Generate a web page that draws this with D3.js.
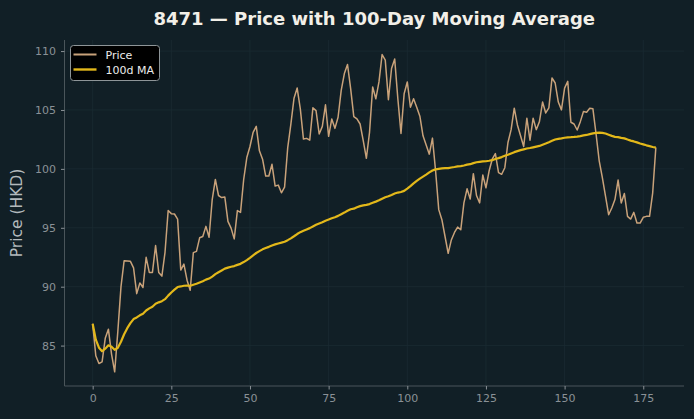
<!DOCTYPE html>
<html><head><meta charset="utf-8">
<script src="https://cdn.jsdelivr.net/npm/d3@7"></script>
<style>
html,body{margin:0;padding:0;background:#111f26;}
svg{display:block;font-family:"DejaVu Sans",sans-serif;}
</style></head>
<body><svg id="c" width="694" height="419"></svg>
<script>
const title = "8471 \u2014 Price with 100-Day Moving Average";
const yLabel = "Price (HKD)";
const legendLabels = ["Price", "100d MA"];
const xTicks = [0,25,50,75,100,125,150,175];
const yTicks = [85,90,95,100,105,110];
const price = [
86.85,84.14,83.48,83.62,85.62,86.39,84.28,82.77,86.2,89.98,
92.2,92.18,92.15,91.6,89.41,90.32,89.93,92.49,91.21,91.21,
93.49,91.21,90.9,92.92,96.46,96.2,96.17,95.74,91.41,91.92,
90.55,89.7,92.89,93.0,94.15,94.26,95.12,94.2,97.4,99.1,
97.74,97.57,97.62,95.54,94.97,94.06,96.46,96.31,99.1,100.96,
101.9,103.1,103.61,101.53,100.82,99.39,99.39,100.39,98.54,98.62,
97.97,98.45,101.8,103.8,106.0,106.86,105.1,102.53,102.59,102.44,
105.18,104.95,102.96,103.61,105.44,102.76,104.24,103.44,104.38,106.66,
108.09,108.86,106.81,104.44,104.24,103.81,102.39,100.9,103.1,106.95,
105.95,107.38,109.71,109.23,105.87,108.52,109.32,105.95,103.01,106.38,
107.38,105.24,105.95,105.24,104.47,102.81,102.02,101.25,102.61,99.82,
96.54,95.69,94.26,92.83,93.97,94.6,95.06,94.83,97.11,98.31,
97.45,99.59,97.74,97.11,99.48,98.39,99.82,100.82,101.3,99.68,
99.54,100.1,102.24,103.33,105.15,103.73,102.81,101.9,104.3,102.44,
104.3,103.33,104.01,105.67,104.75,105.18,107.72,107.29,105.67,105.01,
106.86,107.43,103.96,103.81,103.3,104.01,104.87,104.81,105.15,105.1,
102.96,100.68,99.25,97.68,96.11,96.68,97.4,99.05,97.11,97.91,
95.97,95.74,96.31,95.4,95.4,95.89,95.97,95.97,97.97,101.82];
const ma100 = [
86.85,85.50,84.82,84.52,84.74,85.02,84.91,84.64,84.82,85.33,
85.96,86.48,86.91,87.25,87.39,87.57,87.71,87.98,88.16,88.30,
88.55,88.67,88.77,88.94,89.24,89.51,89.75,89.97,90.02,90.08,
90.10,90.08,90.17,90.25,90.36,90.47,90.60,90.69,90.86,91.07,
91.23,91.38,91.53,91.62,91.69,91.75,91.85,91.94,92.09,92.26,
92.45,92.66,92.86,93.02,93.17,93.28,93.38,93.50,93.59,93.67,
93.74,93.82,93.95,94.10,94.28,94.47,94.63,94.75,94.86,94.97,
95.11,95.25,95.36,95.47,95.60,95.70,95.81,95.90,96.01,96.15,
96.29,96.45,96.57,96.62,96.75,96.84,96.90,96.94,97.01,97.12,
97.22,97.33,97.47,97.59,97.68,97.79,97.91,97.99,98.04,98.13,
98.33,98.54,98.77,98.98,99.17,99.34,99.51,99.70,99.86,99.96,
100.00,100.04,100.06,100.07,100.12,100.16,100.21,100.23,100.29,100.36,
100.40,100.49,100.56,100.60,100.63,100.65,100.69,100.74,100.84,100.91,
101.00,101.11,101.20,101.31,101.42,101.51,101.59,101.66,101.73,101.77,
101.83,101.89,101.95,102.05,102.15,102.26,102.38,102.49,102.55,102.59,
102.64,102.68,102.69,102.71,102.74,102.78,102.84,102.88,102.95,103.01,
103.06,103.08,103.06,103.00,102.90,102.80,102.72,102.69,102.63,102.59,
102.49,102.40,102.33,102.25,102.15,102.08,102.00,101.93,101.86,101.81];

const idx = price.map((_, i) => i);
const W = 694, H = 419;
const m = {left: 64.5, right: 684, top: 40, bottom: 386};
const svg = d3.select("#c");
svg.append("rect").attr("width", W).attr("height", H).attr("fill", "#111f26");

const x = d3.scaleLinear().domain([-8.95, 187.95]).range([m.left, m.right]);
const y = d3.scaleLinear().domain([81.57, 110.94]).range([m.bottom, m.top]);

// grid
const g = svg.append("g");
g.selectAll("line.vg").data(xTicks).enter().append("line")
  .attr("x1", d => x(d)).attr("x2", d => x(d)).attr("y1", m.top).attr("y2", m.bottom)
  .attr("stroke", "#1b2b32").attr("stroke-width", 0.8);
g.selectAll("line.hg").data(yTicks).enter().append("line")
  .attr("x1", m.left).attr("x2", m.right).attr("y1", d => y(d)).attr("y2", d => y(d))
  .attr("stroke", "#1b2b32").attr("stroke-width", 0.8);

// axes
const xAxis = svg.append("g").attr("transform", `translate(0,${m.bottom})`)
  .call(d3.axisBottom(x).tickValues(xTicks).tickSize(3.5).tickPadding(5).tickSizeOuter(0));
const yAxis = svg.append("g").attr("transform", `translate(${m.left},0)`)
  .call(d3.axisLeft(y).tickValues(yTicks).tickSize(3.5).tickPadding(5).tickSizeOuter(0));
[xAxis, yAxis].forEach(a => {
  a.select(".domain").attr("stroke", "#4a555a").attr("stroke-width", 1);
  a.selectAll(".tick line").attr("stroke", "#8a9196");
  a.selectAll(".tick text").attr("fill", "#8a9196").attr("font-size", 11)
    .attr("font-family", "DejaVu Sans, sans-serif");
});
xAxis.select(".domain").attr("d", `M${m.left},0H${m.right}`);
yAxis.select(".domain").attr("d", `M0,${m.bottom}V${m.top}`);

// lines
const line = d3.line().x(d => x(d[0])).y(d => y(d[1]));
svg.append("path").datum(idx.map(i => [i, price[i]]))
  .attr("d", line).attr("fill", "none").attr("stroke", "#c9a27a")
  .attr("stroke-width", 1.5).attr("stroke-linejoin", "round");
svg.append("path").datum(idx.map(i => [i, ma100[i]]))
  .attr("d", line).attr("fill", "none").attr("stroke", "#e3b81a")
  .attr("stroke-width", 2.2).attr("stroke-linejoin", "round");

// title
svg.append("text").attr("x", (m.left + m.right) / 2).attr("y", 25)
  .attr("text-anchor", "middle").attr("fill", "#f2efe8")
  .attr("font-size", 18).attr("font-weight", "bold").text(title);

// y label
svg.append("text").attr("transform", `translate(22,${(m.top + m.bottom) / 2}) rotate(-90)`)
  .attr("text-anchor", "middle").attr("fill", "#b3b9bc").attr("font-size", 15.5)
  .text(yLabel);

// legend
const lg = svg.append("g");
lg.append("rect").attr("x", 70.5).attr("y", 45.5).attr("width", 89).attr("height", 35)
  .attr("rx", 3).attr("fill", "#000000").attr("stroke", "#8e9598").attr("stroke-width", 1);
const legColors = ["#c9a27a", "#e3b81a"];
const legW = [2, 2.4];
legendLabels.forEach((t, i) => {
  const yy = 54.5 + i * 15;
  lg.append("line").attr("x1", 73.5).attr("x2", 96.5).attr("y1", yy).attr("y2", yy)
    .attr("stroke", legColors[i]).attr("stroke-width", legW[i]);
  lg.append("text").attr("x", 105.5).attr("y", yy + 4).attr("fill", "#ececec")
    .attr("font-size", 11).text(t);
});
</script></body></html>
